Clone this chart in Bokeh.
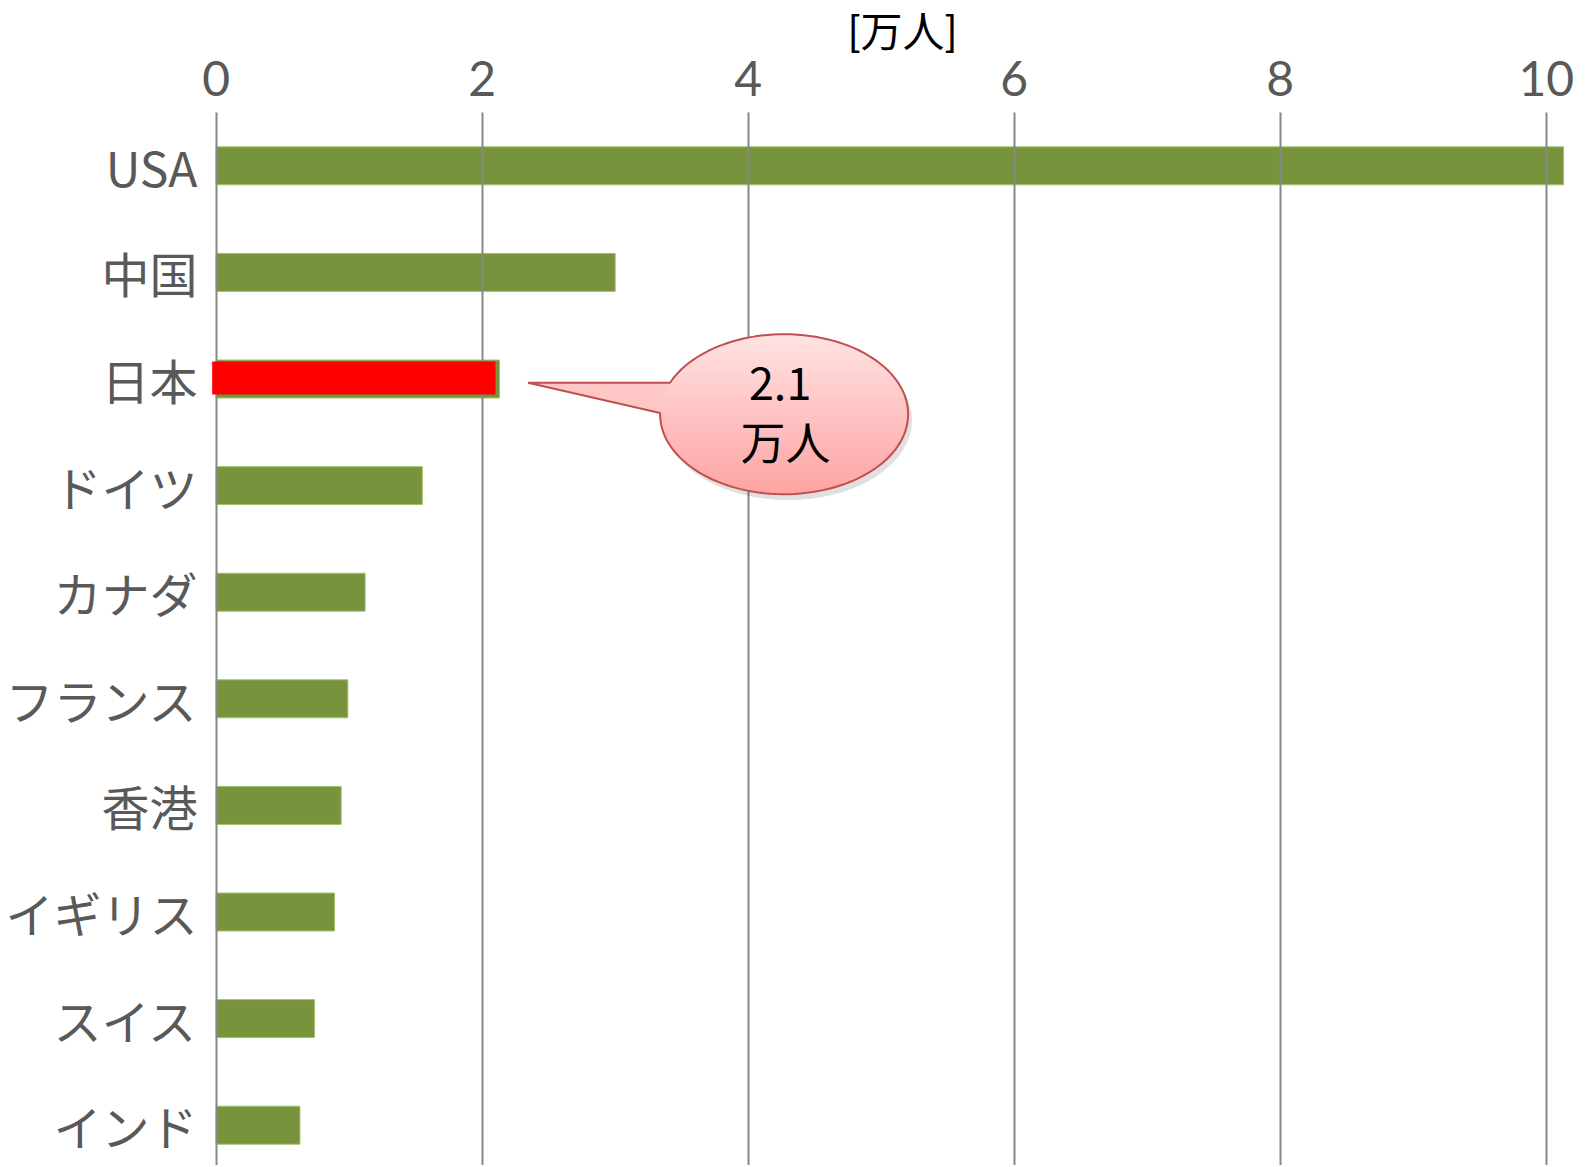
import math
from bokeh.plotting import figure
from bokeh.models import Range1d, FixedTicker
from bokeh.core.properties import value
from bokeh.embed import file_html
from bokeh.resources import INLINE

# ---- data ----
countries = ["USA", "中国", "日本", "ドイツ", "カナダ", "フランス", "香港", "イギリス", "スイス", "インド"]
students = [10.13, 3.0, 2.13, 1.55, 1.12, 0.99, 0.94, 0.89, 0.74, 0.63]  # 万人
highlight_country = "日本"
highlight_value = 2.1
x_ticks = [0, 2, 4, 6, 8, 10]
unit_label = "[万人]"
callout_lines = ["2.1", "万人"]

rows = list(range(len(countries)))
hi = countries.index(highlight_country)

JP = "Noto Sans CJK JP"
GREEN = "#77933C"
GRID = "#878787"
TXT = "#595959"

p = figure(width=1595, height=1165, output_backend="svg", toolbar_location=None,
           x_range=Range1d(-0.05, 10.37), y_range=Range1d(9.378, -0.5),
           x_axis_location="above",
           min_border_left=209, min_border_right=0, min_border_top=112, min_border_bottom=0)
p.outline_line_color = None
p.background_fill_color = "white"
p.border_fill_color = "white"

# bars
p.hbar(y=rows, right=students, left=0, height=0.356, fill_color=GREEN,
       line_color="#A3BF72", line_width=1)

# highlight bar (drawn over the grid)
hbar = p.hbar(y=[hi - 0.01], right=[highlight_value], left=[-0.03], height=0.31,
              fill_color="#FF0000", line_color=None)
hbar.level = "annotation"

# axes
xa = p.xaxis[0]
xa.ticker = FixedTicker(ticks=x_ticks)
xa.axis_line_color = None
xa.major_tick_line_color = None
xa.minor_tick_line_color = None
xa.major_label_text_font = "Lato"
xa.major_label_text_font_size = "48px"
xa.major_label_text_color = TXT
xa.major_label_standoff = 11
xa.axis_label = unit_label
xa.axis_label_text_font = "Lato, 'Noto Sans CJK JP'"
xa.axis_label_text_font_size = "42px"
xa.axis_label_text_font_style = "normal"
xa.axis_label_text_color = "black"
xa.axis_label_standoff = 2

ya = p.yaxis[0]
ya.ticker = FixedTicker(ticks=rows)
ya.major_label_overrides = {i: c for i, c in zip(rows, countries)}
ya.axis_line_color = None
ya.major_tick_line_color = None
ya.minor_tick_line_color = None
ya.major_label_text_font = JP
ya.major_label_text_font_size = "48px"
ya.major_label_text_color = TXT
ya.major_label_standoff = 6

p.xgrid.ticker = FixedTicker(ticks=x_ticks)
p.xgrid.grid_line_color = GRID
p.xgrid.grid_line_width = 2
p.xgrid.level = "guide"
p.ygrid.grid_line_color = None

# ---- callout balloon ----
SX, SY = 133.0, 106.6          # px per data unit (for shape aspect)
cx, cy = 4.27, hi + 0.33       # balloon centre
a, b = 124 / SX, 80 / SY       # radii
tip = (2.345, hi + 0.035)
t_up, t_lo = math.radians(203.1), math.radians(180.9 + 360)

ox, oy = [], []
n = 120
for k in range(n + 1):
    t = t_up + (t_lo - t_up) * k / n
    ox.append(cx + a * math.cos(t))
    oy.append(cy + b * math.sin(t))
ox.append(tip[0]); oy.append(tip[1])

# shadow
sh = p.ellipse(x=[cx + 4 / SX], y=[cy + 6 / SY], width=2 * a, height=2 * b,
               fill_color="#000000", fill_alpha=0.12, line_color=None)
sh.level = "annotation"
base = p.patch(ox, oy, fill_color="#FFC6C6", line_color=None)
base.level = "annotation"

N = 60
top_c, bot_c = (255, 227, 227), (255, 164, 164)
sxs, sys_, cols = [], [], []
for k in range(N):
    y0 = cy - b + 2 * b * k / N
    y1 = cy - b + 2 * b * (k + 1) / N
    def half(y):
        r = 1 - ((y - cy) / b) ** 2
        return a * math.sqrt(max(r, 0.0))
    h0, h1 = half(y0), half(y1)
    sxs.append([cx - h0, cx + h0, cx + h1, cx - h1])
    sys_.append([y0, y0, y1, y1])
    f = (k + 0.5) / N
    c = tuple(int(round(top_c[i] + (bot_c[i] - top_c[i]) * f)) for i in range(3))
    cols.append("#%02X%02X%02X" % c)
st = p.patches(sxs, sys_, fill_color=cols, line_color=cols, line_width=1)
st.level = "annotation"

ol = p.patch(ox + [ox[0]], oy + [oy[0]], fill_color=None, line_color="#C0504D", line_width=2)
ol.level = "annotation"

tx = p.text(x=[4.24, 4.28], y=[hi + 0.04, hi + 0.58], text=callout_lines,
            text_align="center", text_baseline="middle", text_font=value(JP),
            text_font_size="45px", text_color="black")
tx.level = "annotation"

open("out.html", "w").write(file_html(p, INLINE))
